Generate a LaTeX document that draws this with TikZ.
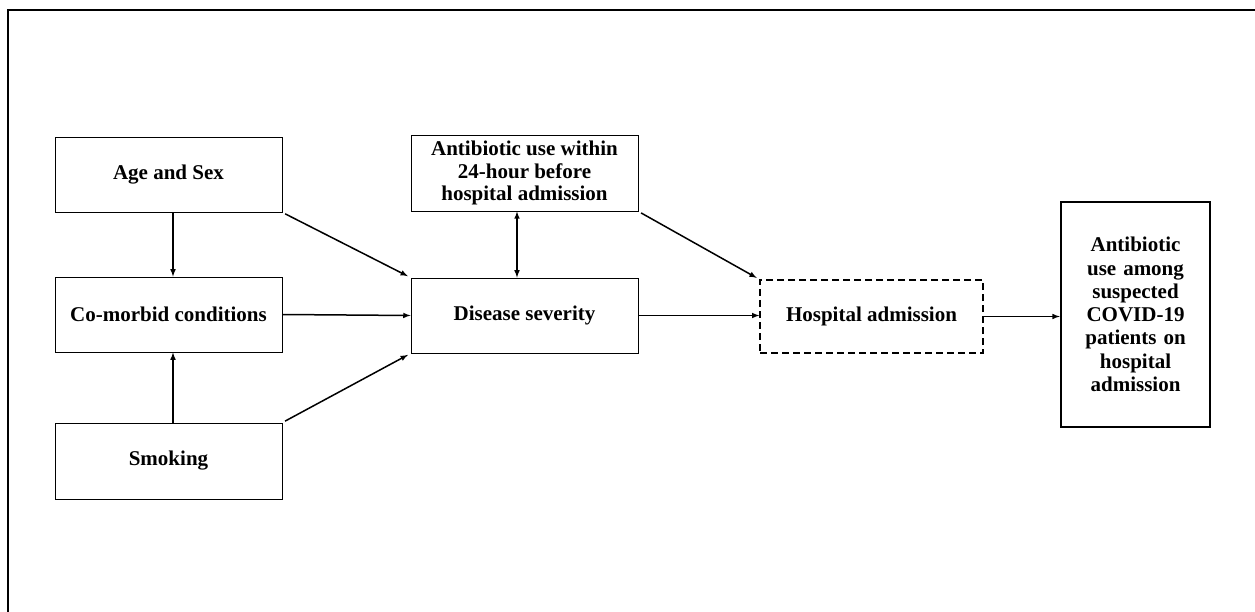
\documentclass[tikz,border=0pt]{standalone}
\usepackage{fontspec}
\setmainfont{Liberation Serif}
\begin{document}
\begin{tikzpicture}[x=1pt,y=-1pt,>=latex,
   box/.style={draw,line width=0.9pt,minimum width=227pt,minimum height=75pt,
      align=center,font=\fontsize{21}{22.5}\selectfont\bfseries,inner sep=2pt},
   arr/.style={->,line width=1.5pt}]
   \useasboundingbox (0,0) rectangle (1255,612);
   %frame
   \draw[line width=2.5pt] (1255,10) -- (8,10) -- (8,612);
   %left column
   \node[box] (age) at (168.5,174.5) {Age and Sex};
   \node[box] (como) at (168.5,314.5) {Co-morbid conditions};
   \node[box,minimum height=76pt] (smok) at (168.5,461) {Smoking};
   %middle column
   \node[box,minimum height=76pt] (abx) at (524.5,173) {Antibiotic use within\\24-hour before\\hospital admission};
   \node[box] (sev) at (524.5,315.5) {Disease severity};
   %mediator and outcome
   \node[box,dashed,line width=1.3pt,dash pattern=on 7pt off 4pt,minimum width=223pt,minimum height=73pt] (hosp) at (871.5,316.5) {Hospital admission};
   \node[box,line width=2.5pt,minimum width=149pt,minimum height=225pt,text width=140pt,
      font=\fontsize{21}{23.3}\selectfont\bfseries] (outc) at (1135.5,314.5) {Antibiotic\\use among\\suspected\\COVID-19\\patients on\\hospital\\admission};
   %arrows
   \draw[arr] ([xshift=4.5pt]age.south) -- ([xshift=4.5pt]como.north);
   \draw[arr] ([xshift=4.5pt]smok.north) -- ([xshift=4.5pt]como.south);
   \draw[arr,shorten <=3pt,shorten >=3pt] (age.south east) -- (sev.north west);
   \draw[arr] (como.east) -- (sev.west);
   \draw[arr,shorten <=3pt,shorten >=3pt] (smok.north east) -- (sev.south west);
   \draw[<->,line width=1.5pt] ([xshift=-7.5pt]abx.south) -- ([xshift=-7.5pt]sev.north);
   \draw[arr,shorten <=3pt,shorten >=3pt] (abx.south east) -- (hosp.north west);
   \draw[arr] (sev.east) -- (sev.east -| hosp.west);
   \draw[arr] (hosp.east) -- (hosp.east -| outc.west);
\end{tikzpicture}
\end{document}
